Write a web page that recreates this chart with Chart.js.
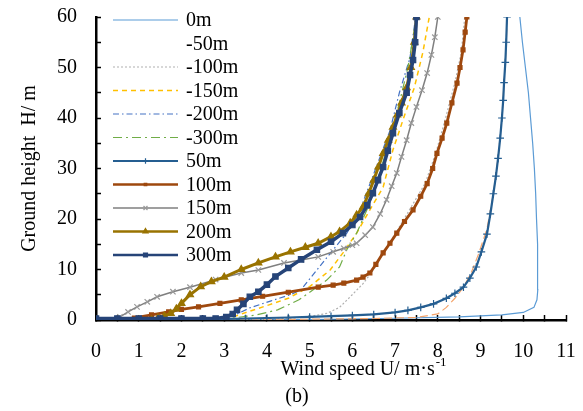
<!DOCTYPE html>
<html>
<head>
<meta charset="utf-8">
<script src="https://cdn.jsdelivr.net/npm/chart.js@4.4.0/dist/chart.umd.min.js"></script>
<style>
  html, body { margin: 0; padding: 0; background: #fff; }
  #wrap { width: 583px; height: 411px; }
</style>
</head>
<body>
<div id="wrap"><canvas id="chartWind" width="583" height="411"></canvas></div>
<script>
// series names (legend order)
const seriesNames = ['0m', '-50m', '-100m', '-150m', '-200m', '-300m', '50m', '100m', '150m', '200m', '300m'];

// wind speed (x) / ground height (y)
const s0m_x = [0, 4, 5.5, 7, 8.5, 9.5, 10.0, 10.25, 10.32, 10.34, 10.34, 10.33, 10.31, 10.29, 10.26, 10.22, 10.17, 10.12, 10.05, 9.98, 9.92];
const s0m_y = [0, 0.05, 0.15, 0.35, 0.6, 1.0, 1.5, 2.5, 4, 6, 10, 15, 20, 25, 30, 35, 40, 45, 50, 55, 60];

const sM50_x = [0, 3, 5, 6.5, 7.5, 8.0, 8.2, 8.4, 8.6, 8.78, 8.95, 9.15, 9.3, 9.41, 9.5, 9.55, 9.6, 9.62];
const sM50_y = [0, 0.05, 0.15, 0.3, 0.5, 1.2, 2.5, 4.3, 6.5, 9.3, 13, 18, 25, 32, 40, 47, 54, 60];

const sM100_x = [3.5, 4.5, 5.0, 5.4, 5.7, 5.95, 6.25, 6.5, 6.7, 7.0, 7.35, 7.7, 7.95, 8.15, 8.4, 8.55, 8.63];
const sM100_y = [0, 0.3, 0.7, 1.3, 2.5, 4.6, 7.2, 10, 13, 17, 22, 27, 33, 39, 47, 53, 60];

const sM150_x = [2.8, 3.2, 3.55, 4.05, 4.5, 5.0, 5.48, 5.78, 6.1, 6.41, 6.72, 6.95, 7.2, 7.45, 7.65, 7.8];
const sM150_y = [0, 0.6, 1.6, 3.0, 4.3, 6.6, 9.9, 13.3, 17.2, 21.8, 26.3, 33.7, 40, 46, 53, 60];

const sM200_x = [2.8, 3.2, 3.6, 4.1, 4.55, 4.8, 5.17, 5.55, 5.87, 6.18, 6.56, 6.88, 7.1, 7.35, 7.48];
const sM200_y = [0, 0.8, 2.4, 3.8, 5.0, 6.0, 9.9, 13.9, 17.2, 21.8, 30.3, 37.5, 45, 52, 60];

const sM300_x = [2.9, 3.3, 3.75, 4.25, 4.75, 5.4, 5.7, 5.87, 6.1, 6.35, 6.6, 6.85, 7.1, 7.3, 7.5];
const sM300_y = [0, 0.5, 1.0, 2.0, 4.0, 7.9, 10.5, 13.9, 17.2, 22, 28, 35, 43, 50, 60];

const s50_x = [0, 1, 2, 2.5, 3, 3.5, 4, 4.5, 5, 5.5, 6, 6.5, 7, 7.3, 7.6, 7.9, 8.2, 8.4, 8.6, 8.75, 8.9, 9.02, 9.15, 9.23, 9.3, 9.36, 9.41, 9.46, 9.5, 9.53, 9.55, 9.58, 9.6, 9.62];
const s50_y = [0, 0.05, 0.1, 0.15, 0.2, 0.3, 0.4, 0.5, 0.6, 0.75, 0.9, 1.1, 1.5, 1.9, 2.5, 3.2, 4.3, 5.3, 6.5, 8.3, 10.5, 13.5, 17, 21, 25, 28.5, 32, 36, 40, 43.5, 47, 51, 55, 60];

const s100_x = [0.5, 0.9, 1.3, 1.7, 2.0, 2.4, 2.9, 3.4, 3.9, 4.5, 5.2, 5.55, 5.8, 6.1, 6.25, 6.41, 6.55, 6.72, 6.88, 7.04, 7.22, 7.42, 7.6, 7.75, 7.88, 7.98, 8.1, 8.21, 8.33, 8.45, 8.52, 8.59, 8.64, 8.68];
const s100_y = [0, 0.4, 1.0, 1.6, 2.1, 2.6, 3.3, 4.0, 4.7, 5.5, 6.5, 6.9, 7.3, 7.9, 8.5, 9.3, 11, 13.3, 15.2, 17.2, 19.5, 21.8, 24.5, 27, 30, 33, 36, 39, 43, 46.9, 50, 53.5, 57, 60];

const s150_x = [0.5, 0.56, 0.75, 0.96, 1.2, 1.43, 1.8, 2.2, 2.8, 3.4, 3.8, 4.4, 4.8, 5.2, 5.55, 5.8, 6.0, 6.1, 6.3, 6.48, 6.65, 6.8, 6.92, 7.04, 7.15, 7.27, 7.38, 7.5, 7.63, 7.75, 7.85, 7.93, 8.0];
const s150_y = [0, 0.6, 1.6, 2.6, 3.6, 4.6, 5.6, 6.5, 8.0, 9.3, 9.9, 11.3, 11.9, 12.5, 13.5, 14.2, 14.8, 15.2, 16.8, 18.4, 21, 23.8, 26.5, 29.1, 32.3, 35.6, 39, 42.2, 45.5, 48.9, 52.5, 56, 60];

const s200_x = [0, 0.5, 1.0, 1.3, 1.45, 1.6, 1.75, 1.88, 2.0, 2.2, 2.45, 2.7, 3.0, 3.4, 3.8, 4.2, 4.55, 4.9, 5.2, 5.5, 5.7, 5.95, 6.1, 6.25, 6.38, 6.5, 6.61, 6.72, 6.84, 6.95, 7.05, 7.15, 7.27, 7.37, 7.45, 7.5];
const s200_y = [0, 0, 0, 0, 0.4, 0.8, 1.3, 2.2, 3.3, 5.0, 6.6, 7.6, 8.5, 10.0, 11.3, 12.5, 13.5, 14.4, 15.2, 16.5, 17.5, 19.2, 20.8, 22.4, 25, 27.7, 30.3, 33, 35.6, 38.2, 40.6, 43, 46, 50, 55, 60];

const s300_x = [0, 0.5, 1, 1.5, 2, 2.5, 2.8, 3.05, 3.2, 3.3, 3.45, 3.6, 3.8, 4.0, 4.2, 4.5, 4.8, 5.17, 5.5, 5.78, 6.0, 6.18, 6.35, 6.48, 6.6, 6.72, 6.83, 6.95, 7.1, 7.27, 7.35, 7.42, 7.47, 7.5];
const s300_y = [0.3, 0.3, 0.3, 0.3, 0.3, 0.3, 0.3, 0.6, 1.2, 2.0, 3.2, 4.6, 5.6, 7.0, 8.6, 10.3, 12.0, 13.9, 15.5, 17.2, 18.8, 20.4, 22.7, 25.1, 27.7, 30.3, 33.5, 37, 41, 45, 48.5, 51.5, 55, 60];

const xValues = [s0m_x, sM50_x, sM100_x, sM150_x, sM200_x, sM300_x, s50_x, s100_x, s150_x, s200_x, s300_x];
const yValues = [s0m_y, sM50_y, sM100_y, sM150_y, sM200_y, sM300_y, s50_y, s100_y, s150_y, s200_y, s300_y];

// tick labels
const xTickLabels = ['0', '1', '2', '3', '4', '5', '6', '7', '8', '9', '10', '11'];
const yTickLabels = ['0', '10', '20', '30', '40', '50', '60'];

const serif = "'Liberation Serif', 'Times New Roman', serif";

// line styles per series
const styles = [
  { color: '#5B9BD5', width: 1.2, dash: [], point: false },
  { color: '#F4A46B', width: 1.2, dash: [8, 4], point: false, noLegendLine: true },
  { color: '#B0B0B0', width: 1.2, dash: [2, 2], point: false },
  { color: '#FFC000', width: 1.5, dash: [5, 4], point: false },
  { color: '#4472C4', width: 1.2, dash: [6, 3, 1.5, 3], point: false },
  { color: '#70AD47', width: 1.2, dash: [9, 4, 2, 4], point: false },
  { color: '#255E91', width: 2.2, dash: [], point: 'cross', radius: 3.8 },
  { color: '#9E480E', width: 2.8, dash: [], point: 'rect', radius: 2.8 },
  { color: '#7F7F7F', width: 1.5, dash: [], point: 'crossRot', radius: 3.8, pointColor: '#999999' },
  { color: '#997300', width: 3, dash: [], point: 'triangle', radius: 4 },
  { color: '#264478', width: 3.5, dash: [], point: 'rect', radius: 3.8 }
];

const datasets = seriesNames.map(function (name, i) {
  const st = styles[i];
  const pts = xValues[i].map(function (x, k) {
    return { x: x, y: yValues[i][k] };
  });
  return {
    label: name,
    data: pts,
    borderColor: st.color,
    backgroundColor: st.pointColor || st.color,
    borderWidth: st.width,
    borderDash: st.dash,
    pointStyle: st.point || 'circle',
    pointRadius: st.point ? st.radius : 0,
    pointBorderColor: st.pointColor || st.color,
    pointBackgroundColor: st.pointColor || st.color,
    pointBorderWidth: 1.2,
    tension: 0,
    fill: false,
    order: seriesNames.length - i
  };
});

// legend + bottom texts
const extraText = {
  id: 'extraText',
  afterDraw(chart) {
    const ctx = chart.ctx;
    ctx.save();
    // legend
    for (let i = 0; i < datasets.length; i++) {
      const st = styles[i];
      const y = 20 + i * 23.5;
      if (!st.noLegendLine) {
        ctx.beginPath();
        ctx.setLineDash(st.dash);
        ctx.strokeStyle = st.color;
        ctx.lineWidth = Math.min(st.width, 2.5);
        ctx.moveTo(113, y);
        ctx.lineTo(178, y);
        ctx.stroke();
        ctx.setLineDash([]);
      }
      if (st.point && Chart.helpers && Chart.helpers.drawPoint) {
        ctx.fillStyle = st.pointColor || st.color;
        ctx.strokeStyle = st.pointColor || st.color;
        ctx.lineWidth = 1.2;
        Chart.helpers.drawPoint(ctx, { pointStyle: st.point, radius: st.radius - 1, borderWidth: 1.2, rotation: 0 }, 145.5, y);
      }
      ctx.fillStyle = '#000';
      ctx.font = '20px ' + serif;
      ctx.textAlign = 'left';
      ctx.textBaseline = 'middle';
      ctx.fillText(datasets[i].label, 186, y + 1);
    }

    // x axis title with superscript
    const main = 'Wind speed U/ m\u00B7s';
    const sup = '-1';
    ctx.font = '20px ' + serif;
    const w1 = ctx.measureText(main).width;
    ctx.font = '13px ' + serif;
    const w2 = ctx.measureText(sup).width;
    const x0 = 363 - (w1 + w2) / 2;
    ctx.textAlign = 'left';
    ctx.textBaseline = 'alphabetic';
    ctx.font = '20px ' + serif;
    ctx.fillText(main, x0, 375);
    ctx.font = '13px ' + serif;
    ctx.fillText(sup, x0 + w1 + 1, 366);

    ctx.font = '20px ' + serif;
    ctx.textAlign = 'center';
    ctx.fillText('(b)', 297, 402);
    ctx.restore();
  }
};

const whiteBg = {
  id: 'whiteBg',
  beforeDraw(chart) {
    const ctx = chart.ctx;
    ctx.save();
    ctx.fillStyle = '#fff';
    ctx.fillRect(0, 0, chart.width, chart.height);
    ctx.restore();
  }
};

const ctxWind = document.getElementById('chartWind').getContext('2d');

const windChart = new Chart(ctxWind, {
  type: 'line',
  data: { datasets: datasets },
  plugins: [whiteBg, extraText],
  options: {
    responsive: false,
    animation: false,
    layout: { padding: { top: 17, right: 17, left: 0, bottom: 0 } },
    plugins: {
      legend: { display: false },
      tooltip: { enabled: false },
      title: { display: false }
    },
    scales: {
      x: {
        type: 'linear',
        min: 0,
        max: 11,
        afterFit: function (scale) {
          scale.height = 91;
          scale.paddingLeft = 0;
          scale.paddingRight = 0;
        },
        border: { display: true, color: '#000', width: 2.5 },
        grid: { drawOnChartArea: false, drawTicks: true, tickLength: -5, tickColor: '#000', tickWidth: 1.5 },
        ticks: {
          stepSize: 0.5,
          autoSkip: false,
          maxRotation: 0,
          padding: 25,
          color: '#000',
          font: { family: serif, size: 20 },
          callback: function (v) {
            return Number.isInteger(v) ? xTickLabels[v] : '';
          }
        }
      },
      y: {
        type: 'linear',
        min: 0,
        max: 60,
        afterFit: function (scale) {
          scale.width = 96;
          scale.paddingTop = 0;
          scale.paddingBottom = 0;
        },
        border: { display: true, color: '#000', width: 2.5 },
        grid: { drawOnChartArea: false, drawTicks: true, tickLength: -5, tickColor: '#000', tickWidth: 1.5 },
        ticks: {
          stepSize: 5,
          autoSkip: false,
          padding: 24,
          color: '#000',
          font: { family: serif, size: 20 },
          callback: function (v) {
            return v % 10 === 0 ? yTickLabels[v / 10] : '';
          }
        },
        title: {
          display: true,
          text: 'Ground height  H/ m',
          color: '#000',
          font: { family: serif, size: 20 },
          padding: { top: 18, bottom: 0 }
        }
      }
    }
  }
});
</script>
</body>
</html>
